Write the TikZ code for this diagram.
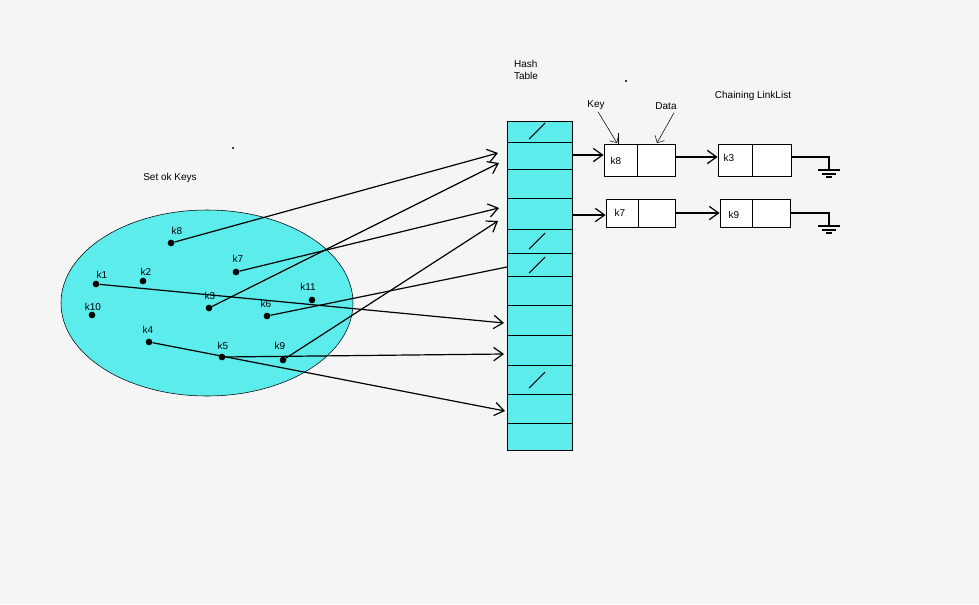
\documentclass[tikz,border=0pt]{standalone}
\usepackage{fontspec}
\setmainfont{Liberation Sans}
\usetikzlibrary{arrows.meta}
\definecolor{aqua}{RGB}{92,236,236}
\begin{document}
\begin{tikzpicture}[x=0.75pt,y=-0.75pt,
  lbl/.style={font=\fontsize{7.5}{9}\selectfont,inner sep=0pt},
  dotc/.style={circle,fill=black,inner sep=0pt,minimum size=5pt},
  arr/.style={line width=0.9pt,-{Straight Barb[length=7pt,width=10pt]}},
  cell/.style={draw=black,line width=0.5pt},
  box/.style={draw=black,line width=0.6pt,fill=white}]
\fill[white!96!black] (0,0) rectangle (979,604);
\useasboundingbox (0,0) rectangle (979,604);
% ellipse
\fill[aqua,draw=black,line width=0.4pt] (207,303) ellipse [x radius=146, y radius=93];
% hash table
\fill[aqua,draw=black,line width=0.6pt] (507,121) rectangle (572,450);
\foreach \y in {142,169,198,229,253,276,305,335,365,394,423}
  \draw[cell] (507,\y) -- (572,\y);
\foreach \y in {131,241,265,380}
  \draw[line width=0.8pt] (529,\y+8) -- (545,\y-8);
% labels
\node[lbl] (set) at (170,178) {Set ok Keys};
\node[lbl,align=left] (ht) at (526,70) {Hash\\Table};
\node[lbl] (cll) at (753,96) {Chaining LinkList};
\node[lbl] (key) at (596,105) {Key};
\node[lbl] (data) at (666,106) {Data};
\fill (233,148) circle (0.8pt) (626,81) circle (0.8pt);
% key dots
\node[dotc] (d8) at (171,243) {};
\node[dotc] (d7) at (236,272) {};
\node[dotc] (d1) at (96,284) {};
\node[dotc] (d2) at (143,281) {};
\node[dotc] (d3) at (209,308) {};
\node[dotc] (d11) at (312,300) {};
\node[dotc] (d10) at (92,315) {};
\node[dotc] (d6) at (267,316) {};
\node[dotc] (d4) at (149,342) {};
\node[dotc] (d5) at (222,357) {};
\node[dotc] (d9) at (283,360) {};
\node[lbl] at (177,231) {k8};
\node[lbl] at (238,259) {k7};
\node[lbl] at (102,275) {k1};
\node[lbl] at (146,272) {k2};
\node[lbl] at (210,296) {k3};
\node[lbl] at (308,287) {k11};
\node[lbl] at (93,307) {k10};
\node[lbl] at (266,304) {k6};
\node[lbl] at (148,330) {k4};
\node[lbl] at (223,346) {k5};
\node[lbl] at (280,346) {k9};
% targets
\coordinate (t8) at (498,153);
\coordinate (t3) at (499,163);
\coordinate (t7) at (499,208);
\coordinate (t9) at (498,221);
\coordinate (t6) at (507,267);
\coordinate (t1) at (504,323);
\coordinate (t5) at (504,354);
\coordinate (t4) at (505,411);
\draw[arr] (d8) -- (t8);
\draw[arr] (d3) -- (t3);
\draw[arr] (d7) -- (t7);
\draw[arr] (d9) -- (t9);
\draw[line width=0.9pt] (d6) -- (t6);
\draw[arr] (d1) -- (t1);
\draw[arr] (d5) -- (t5);
\draw[arr] (d4) -- (t4);
% linked list
\node[box,minimum width=71*0.75pt,minimum height=32*0.75pt,inner sep=0pt] (b8) at (639.5,160) {};
\node[box,minimum width=73*0.75pt,minimum height=32*0.75pt,inner sep=0pt] (b3) at (754.5,160) {};
\node[box,minimum width=69*0.75pt,minimum height=28*0.75pt,inner sep=0pt] (b7) at (640.5,213) {};
\node[box,minimum width=70*0.75pt,minimum height=28*0.75pt,inner sep=0pt] (b9) at (755,213) {};
\draw[line width=0.6pt] (637,144) -- (637,176) (752,144) -- (752,176) (638,199) -- (638,227) (752,199) -- (752,227);
\node[lbl] at (616,161) {k8};
\node[lbl] at (729,158) {k3};
\node[lbl] at (620,213) {k7};
\node[lbl] at (734,215) {k9};
\coordinate (h2) at (572,155);
\coordinate (h5) at (572,215);
\draw[arr] (h2) -- (b8.west |- h2);
\draw[arr] (b8.east |- 0,157) -- (b3.west |- 0,157);
\draw[arr] (h5) -- (b7.west |- h5);
\draw[arr] (b7.east |- 0,213) -- (b9.west |- 0,213);
% grounds
\draw[line width=1pt] (b3.east |- 0,157) -- (829,157) -- (829,170);
\draw[line width=1pt] (818,170) -- (840,170) (822,174) -- (836,174) (826,177) -- (832,177);
\draw[line width=1pt] (b9.east |- 0,213) -- (829,213) -- (829,226);
\draw[line width=1pt] (818,226) -- (840,226) (822,230) -- (836,230) (826,233) -- (832,233);
% key/data pointers
\draw[line width=0.4pt,-{Straight Barb[length=4pt]}] (key.south) ++(2,2) -- (617,143);
\draw[line width=0.4pt,-{Straight Barb[length=4pt]}] (data.south) ++(8,3) -- (657,143);
\draw[line width=0.5pt] (618,133) -- (618,144);
\end{tikzpicture}
\end{document}
